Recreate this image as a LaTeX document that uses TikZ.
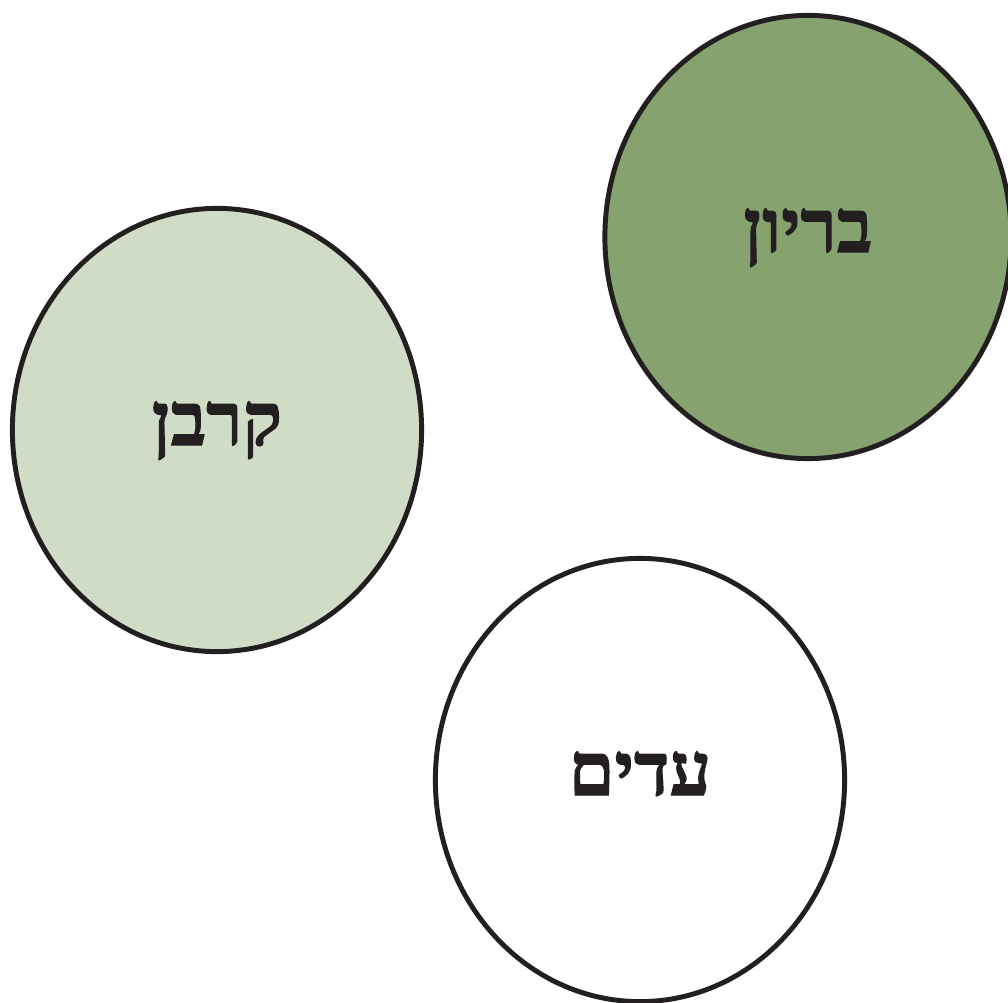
\documentclass[tikz,border=0pt]{standalone}
\usepackage{fontspec}
\newfontfamily\hebfont[Script=Hebrew, BoldFeatures={FakeBold=1.6}]{Liberation Serif}
\TeXXeTstate=1
\definecolor{lightgreen}{RGB}{208, 220, 198}
\definecolor{darkgreen}{RGB}{134, 162, 110}
\definecolor{outline}{RGB}{35, 31, 32}
\usetikzlibrary{shapes.geometric}
\tikzset{
    circ/.style={
        ellipse, draw=outline, fill=#1, line width=1.4pt,
        minimum width=4.09cm, minimum height=4.43cm,
        inner sep=0pt, text=outline,
        text height=0.5cm, text depth=0.2cm,
        font=\hebfont\bfseries\fontsize{21}{24}\selectfont
    }
}

\begin{document}
\begin{tikzpicture}[x=0.01cm, y=-0.01cm]

    % Page frame
    \useasboundingbox (0,0) rectangle (1008,1003);

    % Roles
    \node[circ=lightgreen] (victim) at (217,430) {\beginR קרבן\endR};
    \node[circ=darkgreen, minimum width=4.06cm] (bully) at (808,237) {\beginR בריון\endR};
    \node[circ=white] (witness) at (640,780) {\beginR עדים\endR};

\end{tikzpicture}
\end{document}
